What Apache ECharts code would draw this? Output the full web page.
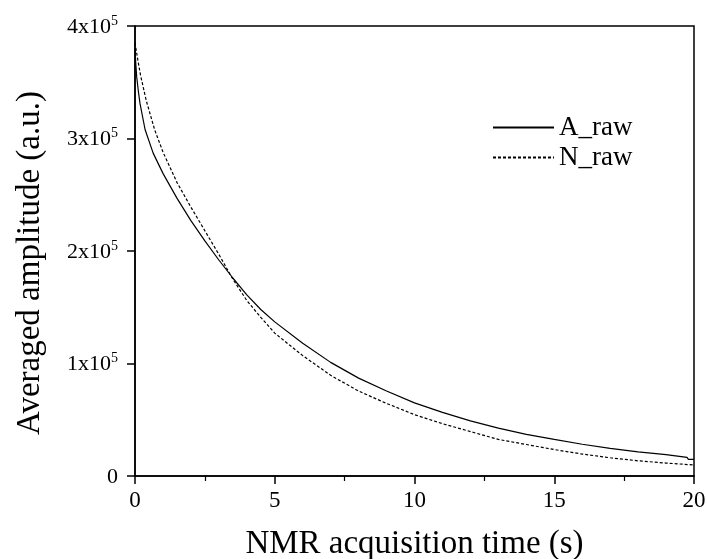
<!DOCTYPE html>
<html>
<head>
<meta charset="utf-8">
<script src="https://cdn.jsdelivr.net/npm/echarts@6/dist/echarts.min.js"></script>
<style>
  html, body { margin: 0; padding: 0; background: #fff; }
  #chart { width: 707px; height: 559px; }
</style>
</head>
<body>
<div id="chart"></div>
<script>
// Acquisition time (s) and averaged amplitude (a.u.) for each trace
const timeA = [0, 0.03, 0.06, 0.12, 0.18, 0.36, 0.65, 1.0, 1.5, 2.0, 2.5, 3.0, 3.5, 4.0, 4.5, 5.0, 6.0, 7.0, 8.0, 9.0, 10.0, 11.0, 12.0, 13.0, 14.0, 15.0, 16.0, 17.0, 18.0, 19.0, 19.75, 19.8, 20.0];
const ampA = [380000, 366000, 355000, 342000, 331000, 308000, 287000, 269000, 247000, 227000, 209000, 192000, 176000, 161000, 148000, 137000, 118000, 101000, 87000, 75500, 65000, 56500, 49000, 42500, 37000, 32500, 28200, 24500, 21500, 19000, 16600, 14800, 14800];

const timeN = [0, 0.1, 0.2, 0.4, 0.7, 1.0, 1.5, 2.0, 2.5, 3.0, 3.5, 4.0, 4.5, 5.0, 6.0, 7.0, 8.0, 9.0, 10.0, 11.0, 12.0, 13.0, 14.0, 15.0, 16.0, 17.0, 18.0, 19.0, 20.0];
const ampN = [385000, 370000, 356000, 334000, 308000, 288000, 261000, 239000, 218000, 197000, 175000, 156000, 141000, 127000, 107000, 89500, 75500, 64500, 54500, 46500, 39500, 32500, 28000, 23500, 19500, 16200, 13500, 11500, 9800];

const seriesNames = ['A_raw', 'N_raw'];
const xTicks = [0, 5, 10, 15, 20];
const yTicks = [0, 100000, 200000, 300000, 400000];

const pairs = (xs, ys) => xs.map((x, i) => [x, ys[i]]);
const font = "'Liberation Serif', 'Times New Roman', Times, serif";

const chart = echarts.init(document.getElementById('chart'), null, { renderer: 'canvas' });
chart.setOption({
  backgroundColor: '#ffffff',
  animation: false,
  grid: {
    left: 135, right: 13, top: 26, bottom: 83,
    containLabel: false, outerBoundsMode: 'none',
    show: true, borderColor: '#000', borderWidth: 1.5
  },
  legend: {
    orient: 'vertical',
    left: 492, top: 114,
    padding: 0,
    itemWidth: 61, itemHeight: 10, itemGap: 3,
    itemStyle: { opacity: 0 },
    textStyle: { fontFamily: font, fontSize: 27, color: '#000', lineHeight: 27 },
    data: seriesNames
  },
  xAxis: {
    type: 'value',
    min: xTicks[0], max: xTicks[xTicks.length - 1], interval: 5,
    name: 'NMR acquisition time (s)',
    nameLocation: 'middle', nameGap: 52,
    nameTextStyle: { fontFamily: font, fontSize: 33, color: '#000' },
    axisLine: { onZero: false, lineStyle: { color: '#000', width: 1.5 } },
    axisTick: { show: true, length: 8, lineStyle: { color: '#000', width: 1.5 } },
    minorTick: { show: true, splitNumber: 2, length: 5, lineStyle: { color: '#000', width: 1.2 } },
    splitLine: { show: false },
    axisLabel: { fontFamily: font, fontSize: 23, color: '#000', margin: 13 }
  },
  yAxis: {
    type: 'value',
    min: yTicks[0], max: yTicks[yTicks.length - 1], interval: 100000,
    name: 'Averaged amplitude (a.u.)',
    nameLocation: 'middle', nameGap: 88,
    nameTextStyle: { fontFamily: font, fontSize: 33, color: '#000', padding: [0, 24, 0, 0] },
    axisLine: { show: true, onZero: false, lineStyle: { color: '#000', width: 1.5 } },
    axisTick: { show: true, length: 8, lineStyle: { color: '#000', width: 1.5 } },
    splitLine: { show: false },
    axisLabel: {
      margin: 17,
      formatter: v => v === 0 ? '{b|0}' : '{b|' + (v / 100000) + 'x10}{s|5}',
      rich: {
        b: { fontFamily: font, fontSize: 22, color: '#000', lineHeight: 24, verticalAlign: 'bottom' },
        s: { fontFamily: font, fontSize: 14, color: '#000', lineHeight: 24, verticalAlign: 'top', padding: [0, 0, 10, 0] }
      }
    }
  },
  series: [
    {
      name: seriesNames[0], type: 'line', symbol: 'none', showSymbol: false,
      data: pairs(timeA, ampA),
      lineStyle: { color: '#000', width: 1.2, type: 'solid' },
      itemStyle: { color: '#000' }
    },
    {
      name: seriesNames[1], type: 'line', symbol: 'none', showSymbol: false,
      data: pairs(timeN, ampN),
      lineStyle: { color: '#000', width: 1.2, type: [3, 2] },
      itemStyle: { color: '#000' }
    }
  ]
});
</script>
</body>
</html>
